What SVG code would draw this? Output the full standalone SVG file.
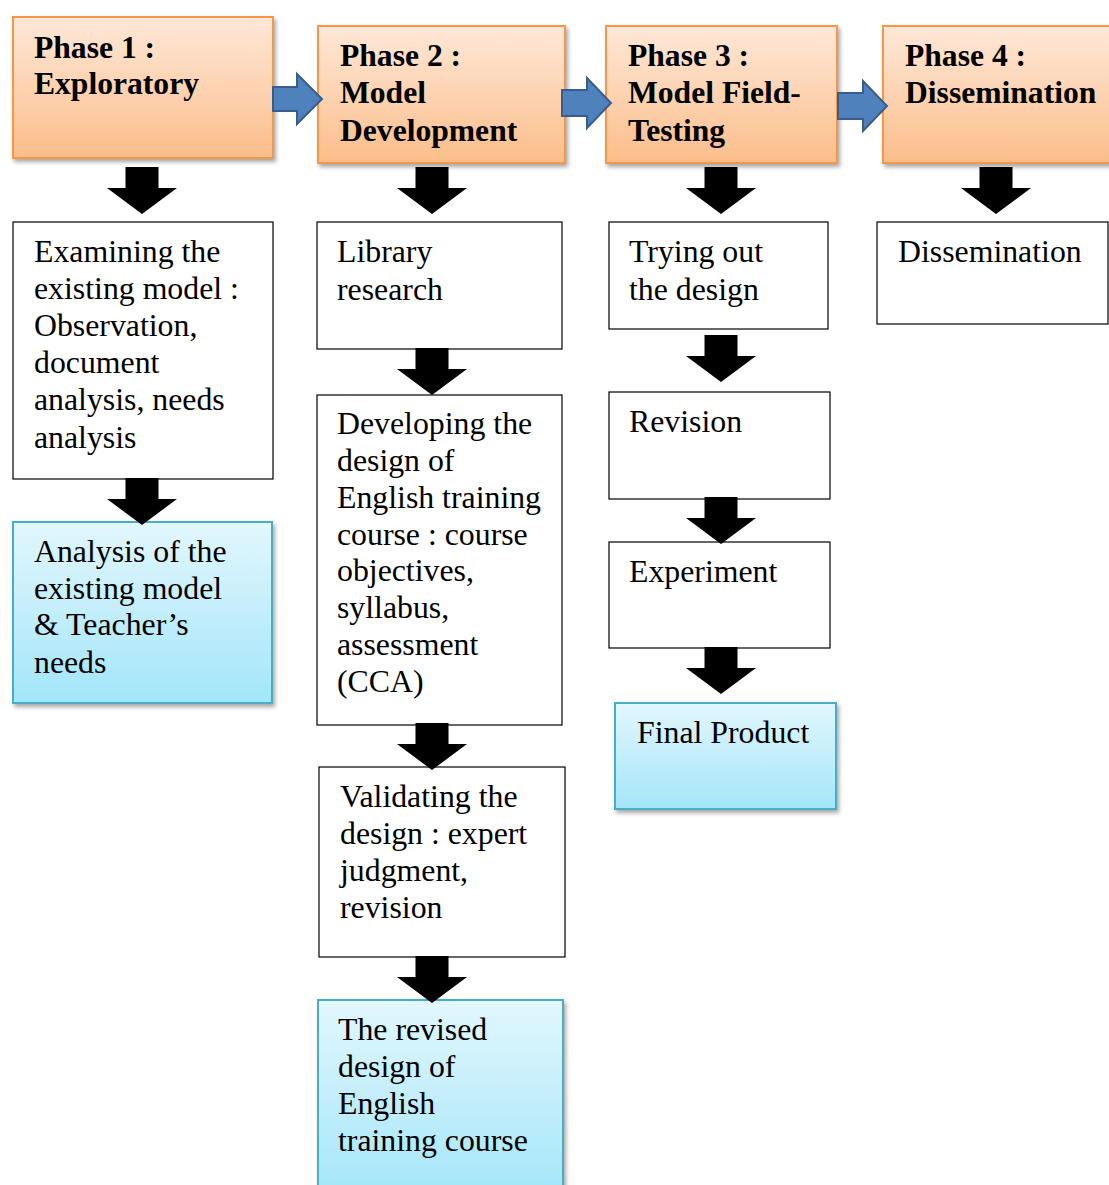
<svg xmlns="http://www.w3.org/2000/svg" xmlns:xlink="http://www.w3.org/1999/xlink" width="1109" height="1185" viewBox="0 0 1109 1185">
  <style>
    text { font-family: "Liberation Serif", "Times New Roman", serif; font-size: 31.8px; fill: #000; }
    .title { font-weight: bold; font-size: 31.6px; }
    .phase { fill: url(#orangeGrad); stroke: #f79646; stroke-width: 2; filter: url(#shadow); }
    .result { fill: url(#blueGrad); stroke: #4bacc6; stroke-width: 2; filter: url(#shadow); }
    .step { fill: #fff; stroke: #000; stroke-width: 1.2; }
    .flow { fill: #4f81bd; stroke: #385d8a; stroke-width: 2; }
    .down { fill: #000; }
  </style>
  <defs>
    <linearGradient id="orangeGrad" x1="0" y1="0" x2="0" y2="1">
      <stop offset="0" stop-color="#fee8d8"/>
      <stop offset="0.5" stop-color="#fdd3b2"/>
      <stop offset="1" stop-color="#fbbd8a"/>
    </linearGradient>
    <linearGradient id="blueGrad" x1="0" y1="0" x2="0" y2="1">
      <stop offset="0" stop-color="#e2f7fd"/>
      <stop offset="0.5" stop-color="#c3eefb"/>
      <stop offset="1" stop-color="#a2e6fa"/>
    </linearGradient>
    <filter id="shadow" x="-10%" y="-10%" width="125%" height="125%">
      <feDropShadow dx="2" dy="3" stdDeviation="2" flood-color="#000" flood-opacity="0.35"/>
    </filter>
    <!-- block arrow pointing down, origin at top centre -->
    <path id="downArrow" class="down" d="M -16.5 0 H 16.5 V 21 H 35 L 0 47 L -35 21 H -16.5 Z"/>
  </defs>

  <rect width="1109" height="1185" fill="#fff"/>

  <!-- Phase headers -->
  <g id="phase1">
    <rect class="phase" x="13" y="17" width="260" height="141"/>
    <text class="title" x="34" y="58">Phase 1 :</text>
    <text class="title" x="34" y="94">Exploratory</text>
  </g>
  <g id="phase2">
    <rect class="phase" x="318" y="26" width="247" height="137"/>
    <text class="title" x="340" y="66">Phase 2 :</text>
    <text class="title" x="340" y="103">Model</text>
    <text class="title" x="340" y="141">Development</text>
  </g>
  <g id="phase3">
    <rect class="phase" x="606" y="26" width="231" height="137"/>
    <text class="title" x="628" y="66">Phase 3 :</text>
    <text class="title" x="628" y="103">Model Field-</text>
    <text class="title" x="628" y="141">Testing</text>
  </g>
  <g id="phase4">
    <rect class="phase" x="883" y="26" width="240" height="137"/>
    <text class="title" x="905" y="66">Phase 4 :</text>
    <text class="title" x="905" y="103">Dissemination</text>
  </g>

  <!-- Phase 1 steps -->
  <g id="examining">
    <rect class="step" x="13" y="222" width="260" height="257"/>
    <text x="34" y="262">Examining the</text>
    <text x="34" y="299">existing model :</text>
    <text x="34" y="336">Observation,</text>
    <text x="34" y="373">document</text>
    <text x="34" y="410">analysis, needs</text>
    <text x="34" y="448">analysis</text>
  </g>
  <g id="analysis">
    <rect class="result" x="13" y="522" width="259" height="181"/>
    <text x="34" y="562">Analysis of the</text>
    <text x="34" y="599">existing model</text>
    <text x="34" y="635">&amp; Teacher’s</text>
    <text x="34" y="673">needs</text>
  </g>

  <!-- Phase 2 steps -->
  <g id="library">
    <rect class="step" x="317" y="222" width="245" height="127"/>
    <text x="337" y="262">Library</text>
    <text x="337" y="300">research</text>
  </g>
  <g id="developing">
    <rect class="step" x="317" y="395" width="245" height="330"/>
    <text x="337" y="434">Developing the</text>
    <text x="337" y="471">design of</text>
    <text x="337" y="508">English training</text>
    <text x="337" y="545">course : course</text>
    <text x="337" y="581">objectives,</text>
    <text x="337" y="618">syllabus,</text>
    <text x="337" y="655">assessment</text>
    <text x="337" y="692">(CCA)</text>
  </g>
  <g id="validating">
    <rect class="step" x="319" y="767" width="246" height="190"/>
    <text x="340" y="807">Validating the</text>
    <text x="340" y="844">design : expert</text>
    <text x="340" y="881">judgment,</text>
    <text x="340" y="918">revision</text>
  </g>
  <g id="revised">
    <rect class="result" x="318" y="1000" width="245" height="200"/>
    <text x="338" y="1040">The revised</text>
    <text x="338" y="1077">design of</text>
    <text x="338" y="1114">English</text>
    <text x="338" y="1151">training course</text>
  </g>

  <!-- Phase 3 steps -->
  <g id="trying">
    <rect class="step" x="609" y="222" width="219" height="107"/>
    <text x="629" y="262">Trying out</text>
    <text x="629" y="300">the design</text>
  </g>
  <g id="revision">
    <rect class="step" x="609" y="392" width="221" height="107"/>
    <text x="629" y="432">Revision</text>
  </g>
  <g id="experiment">
    <rect class="step" x="609" y="542" width="221" height="106"/>
    <text x="629" y="582">Experiment</text>
  </g>
  <g id="final">
    <rect class="result" x="615" y="703" width="221" height="106"/>
    <text x="637" y="743">Final Product</text>
  </g>

  <!-- Phase 4 step -->
  <g id="dissemination">
    <rect class="step" x="877" y="222" width="231" height="102"/>
    <text x="898" y="262">Dissemination</text>
  </g>

  <!-- Connectors -->
  <g id="connectors">
    <!-- phase to phase -->
    <path class="flow" d="M 273 87 H 297 V 74 L 322 99 L 297 124 V 111 H 273 Z"/>
    <path class="flow" d="M 562 90 H 587 V 78 L 611 103 L 587 128 V 116 H 562 Z"/>
    <path class="flow" d="M 838 93 H 863 V 81 L 887 106 L 863 131 V 119 H 838 Z"/>
    <!-- phase into steps -->
    <use xlink:href="#downArrow" transform="translate(142 167)"/>
    <use xlink:href="#downArrow" transform="translate(142 478)"/>
    <use xlink:href="#downArrow" transform="translate(432 167)"/>
    <use xlink:href="#downArrow" transform="translate(432 348)"/>
    <use xlink:href="#downArrow" transform="translate(432 723)"/>
    <use xlink:href="#downArrow" transform="translate(432 956)"/>
    <use xlink:href="#downArrow" transform="translate(721 167)"/>
    <use xlink:href="#downArrow" transform="translate(721 335)"/>
    <use xlink:href="#downArrow" transform="translate(721 497)"/>
    <use xlink:href="#downArrow" transform="translate(721 647)"/>
    <use xlink:href="#downArrow" transform="translate(996 167)"/>
  </g>
</svg>
